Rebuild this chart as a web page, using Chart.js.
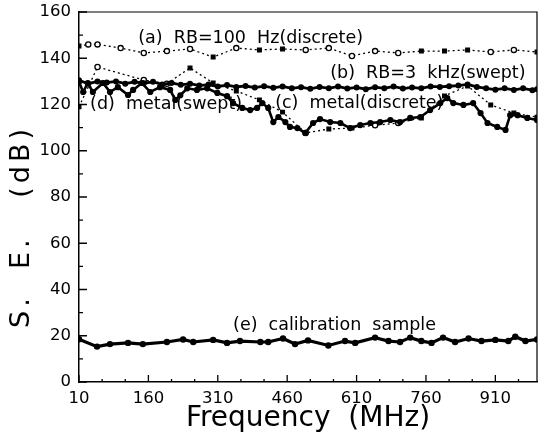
<!DOCTYPE html>
<html>
<head>
<meta charset="utf-8">
<script src="https://cdn.jsdelivr.net/npm/chart.js@4.4.0/dist/chart.umd.min.js"></script>
<style>
  html, body { margin: 0; padding: 0; background: #fff; }
</style>
</head>
<body>
<canvas id="myChart" width="538" height="439"></canvas>
<script>
// axis ticks
var x_ticks = [10, 160, 310, 460, 610, 760, 910];
var x_minor = [60, 110, 210, 260, 360, 410, 510, 560, 660, 710, 810, 860, 960];
var y_ticks = [0, 20, 40, 60, 80, 100, 120, 140, 160];
var y_minor = [10, 30, 50, 70, 90, 110, 130, 150];

// (a) RB=100 Hz (discrete)
var a_freq = [10, 30, 50, 100, 150, 200, 250, 300, 350, 400, 450, 500, 550, 600, 650, 700, 750, 800, 850, 900, 950, 1000];
var a_se = [145.3, 146, 146, 144.4, 142.3, 143.1, 144, 140.5, 144.4, 143.6, 144, 143.6, 144.4, 141, 143.1, 142.3, 143.1, 143.1, 143.6, 142.7, 143.6, 142.7];
var a_filled = [1, 0, 0, 0, 0, 0, 0, 1, 0, 1, 1, 0, 0, 0, 0, 0, 1, 1, 1, 0, 0, 1];

// (b) RB=3 kHz (swept)
var b_freq = [10, 30, 50, 70, 90, 110, 130, 150, 170, 190, 210, 230, 250, 270, 290, 310, 330, 350, 370, 390,
  410, 430, 450, 470, 490, 510, 530, 550, 570, 590, 610, 630, 650, 670, 690, 710, 730, 750, 770, 790,
  810, 830, 850, 870, 890, 910, 930, 950, 970, 990, 1000];
var b_se = [130.5, 129, 130, 129.5, 130, 129, 129.8, 129.2, 129.8, 128.7, 129.3, 128.5, 129, 128.2, 128.6, 127.8, 128.4, 127.6, 128, 127.3,
  127.9, 127.2, 127.8, 127, 127.5, 126.8, 127.6, 127, 127.8, 126.9, 127.4, 126.6, 127.5, 127, 127.8, 126.9, 127.4, 127, 127.8, 127.6,
  127.9, 128.2, 128.7, 127.6, 127, 126.4, 127, 126.3, 127, 126.2, 126.6];

// (c) metal (discrete)
var c_freq = [10, 50, 150, 200, 250, 300, 350, 400, 450, 500, 550, 600, 650, 700, 750, 800, 850, 900, 950, 1000];
var c_se = [119, 136.2, 130.6, 129, 135.8, 129.3, 125.8, 122, 116.7, 107.7, 109.4, 109.8, 111, 112, 114.2, 123.7, 128, 119.8, 116.3, 114.5];
var c_filled = [1, 0, 0, 0, 1, 1, 1, 1, 1, 0, 1, 1, 0, 0, 1, 1, 1, 1, 1, 1];

// (d) metal (swept)
var d_freq = [10, 19, 29, 40, 62, 77, 94, 116, 127, 146, 164, 185, 207, 218, 229, 244, 265, 287, 309, 330,
  343, 363, 380, 395, 406, 419, 430, 441, 456, 466, 482, 499, 516, 531, 553, 575, 596, 618, 640, 661,
  683, 704, 726, 748, 769, 791, 806, 819, 841, 862, 878, 893, 914, 932, 942, 958, 979, 1000];
var d_se = [129.7, 125.4, 129.3, 125.4, 129.3, 125.4, 127.5, 124.1, 126.3, 129.3, 125.4, 127.5, 126.3, 122, 124, 127, 126.3, 127, 125, 123.6,
  120.6, 118.5, 117.6, 118.5, 120.6, 118.5, 112.4, 114.6, 112.4, 110.3, 109.8, 107.7, 112, 113.7, 112.4, 112, 109.8, 111.1, 112, 112.4,
  113.3, 112.4, 114.2, 114.6, 117.6, 120.6, 122.8, 120.6, 119.8, 120.6, 116.3, 112, 110.3, 109, 115.4, 115.4, 114.2, 113.3];

// (e) calibration sample
var e_freq = [10, 49, 77, 116, 148, 200, 235, 257, 300, 330, 358, 402, 419, 451, 477, 505, 549, 585, 607, 650,
  679, 704, 726, 750, 772, 797, 823, 852, 880, 910, 938, 953, 975, 1000];
var e_se = [18.5, 15.3, 16.4, 16.9, 16.4, 17.3, 18.4, 17.3, 18.2, 16.9, 17.7, 17.3, 17.3, 18.8, 16.4, 18, 15.8, 17.7, 16.9, 19.2,
  17.7, 17.3, 19.2, 17.7, 16.9, 19.2, 17.3, 18.8, 17.7, 18.2, 17.7, 19.6, 17.7, 18.4];

// curve labels, placed in data units
var note_text = ["(a)  RB=100  Hz(discrete)", "(b)  RB=3  kHz(swept)", "(c)  metal(discrete)", "(d)  metal(swept)", "(e)  calibration  sample"];
var note_freq = [138, 553, 434, 34, 343];
var note_se = [148.7, 133.4, 120.4, 120.2, 24.6];

var font_family = "'DejaVu Sans', sans-serif";

function pts(fx, fy) {
    var out = [];
    for (var i = 0; i < fx.length; i++) {
        out.push({x: fx[i], y: fy[i]});
    }
    return out;
}

// inward tick marks, box frame, curve labels and y title
var frame_plugin = {
    id: 'frame_plugin',
    afterDraw: function(chart) {
        var ctx = chart.ctx;
        var area = chart.chartArea;
        var xs = chart.scales.x;
        var ys = chart.scales.y;
        ctx.save();
        ctx.strokeStyle = '#000';
        ctx.lineWidth = 1.2;
        ctx.beginPath();
        ctx.moveTo(area.left, area.top);
        ctx.lineTo(area.right, area.top);
        ctx.lineTo(area.right, area.bottom);
        ctx.stroke();

        ctx.lineWidth = 1.3;
        ctx.beginPath();
        for (var i = 0; i < y_ticks.length; i++) {
            var py = ys.getPixelForValue(y_ticks[i]);
            ctx.moveTo(area.left, py);
            ctx.lineTo(area.left + 8, py);
        }
        for (var i = 0; i < y_minor.length; i++) {
            var py = ys.getPixelForValue(y_minor[i]);
            ctx.moveTo(area.left, py);
            ctx.lineTo(area.left + 4, py);
        }
        for (var i = 0; i < x_ticks.length; i++) {
            var px = xs.getPixelForValue(x_ticks[i]);
            ctx.moveTo(px, area.bottom);
            ctx.lineTo(px, area.bottom - 7);
        }
        for (var i = 0; i < x_minor.length; i++) {
            var px = xs.getPixelForValue(x_minor[i]);
            ctx.moveTo(px, area.bottom);
            ctx.lineTo(px, area.bottom - 3);
        }
        ctx.stroke();

        ctx.fillStyle = '#000';
        ctx.font = "17.5px " + font_family;
        ctx.textAlign = 'left';
        ctx.textBaseline = 'middle';
        for (var i = 0; i < note_text.length; i++) {
            ctx.fillText(note_text[i], xs.getPixelForValue(note_freq[i]), ys.getPixelForValue(note_se[i]));
        }

        // y title, wide plotter-style lettering
        ctx.font = "27px " + font_family;
        ctx.letterSpacing = "4px";
        ctx.textAlign = 'left';
        ctx.translate(22, 328);
        ctx.rotate(-Math.PI / 2);
        ctx.fillText("S.  E.   (dB)", 0, 0);
        ctx.restore();
    }
};

var open_or_filled = function(flags) {
    return {
        style: flags.map(function(f) { return f ? 'rect' : 'circle'; }),
        fill: flags.map(function(f) { return f ? '#000' : '#fff'; })
    };
};
var a_mark = open_or_filled(a_filled);
var c_mark = open_or_filled(c_filled);

const canvas = document.getElementById('myChart');
const chart = new Chart(canvas, {
    type: 'line',
    data: {
        datasets: [{
            label: 'calibration sample',
            data: pts(e_freq, e_se),
            borderColor: '#000',
            borderWidth: 3.2,
            pointRadius: 1.6,
            pointBackgroundColor: '#000',
            pointBorderColor: '#000'
        }, {
            label: 'RB=3 kHz(swept)',
            data: pts(b_freq, b_se),
            borderColor: '#000',
            borderWidth: 2.8,
            pointRadius: 1.6,
            pointBackgroundColor: '#000',
            pointBorderColor: '#000'
        }, {
            label: 'metal(swept)',
            data: pts(d_freq, d_se),
            borderColor: '#000',
            borderWidth: 2.6,
            pointRadius: 1.8,
            pointBackgroundColor: '#000',
            pointBorderColor: '#000'
        }, {
            label: 'RB=100 Hz(discrete)',
            data: pts(a_freq, a_se),
            borderColor: '#000',
            borderWidth: 1.3,
            borderDash: [2, 3],
            pointStyle: a_mark.style,
            pointRadius: 2.6,
            pointBorderWidth: 1.3,
            pointBackgroundColor: a_mark.fill,
            pointBorderColor: '#000'
        }, {
            label: 'metal(discrete)',
            data: pts(c_freq, c_se),
            borderColor: '#000',
            borderWidth: 1.3,
            borderDash: [2, 3],
            pointStyle: c_mark.style,
            pointRadius: 2.6,
            pointBorderWidth: 1.3,
            pointBackgroundColor: c_mark.fill,
            pointBorderColor: '#000'
        }]
    },
    options: {
        responsive: false,
        animation: false,
        devicePixelRatio: 1,
        layout: { autoPadding: false, padding: { top: 12, right: 1, left: 0, bottom: 0 } },
        elements: { line: { tension: 0 } },
        plugins: {
            legend: { display: false },
            tooltip: { enabled: false }
        },
        scales: {
            x: {
                type: 'linear',
                min: 10,
                max: 1000,
                afterBuildTicks: function(s) {
                    s.ticks = x_ticks.map(function(v) { return {value: v}; });
                },
                afterFit: function(s) {
                    s.height = 57;
                    s.paddingLeft = 0;
                    s.paddingRight = 0;
                },
                grid: { display: false, drawTicks: false },
                border: { display: true, color: '#000', width: 1.5 },
                ticks: {
                    color: '#000',
                    font: { family: font_family, size: 16.5 },
                    padding: 7,
                    maxRotation: 0,
                    autoSkip: false
                },
                title: {
                    display: true,
                    text: 'Frequency  (MHz)',
                    color: '#000',
                    font: { family: font_family, size: 28 },
                    padding: { top: 0, bottom: 3 }
                }
            },
            y: {
                min: 0,
                max: 160,
                afterBuildTicks: function(s) {
                    s.ticks = y_ticks.map(function(v) { return {value: v}; });
                },
                afterFit: function(s) {
                    s.width = 79;
                    s.paddingTop = 0;
                    s.paddingBottom = 0;
                },
                grid: { display: false, drawTicks: false },
                border: { display: true, color: '#000', width: 1.5 },
                ticks: {
                    color: '#000',
                    font: { family: font_family, size: 16.5 },
                    padding: 8,
                    autoSkip: false
                }
            }
        }
    },
    plugins: [frame_plugin]
});
</script>
</body>
</html>
